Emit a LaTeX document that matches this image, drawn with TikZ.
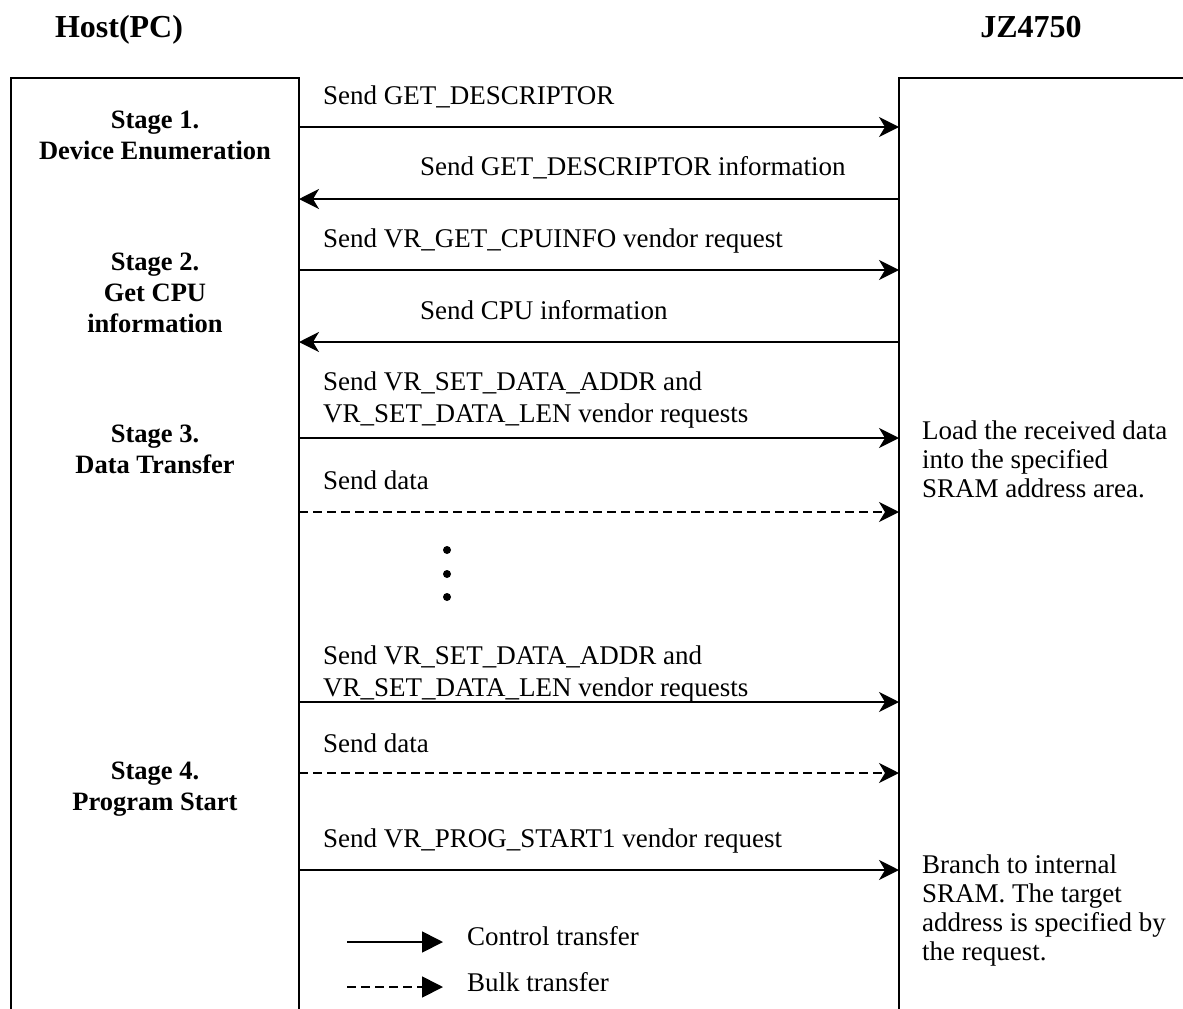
\documentclass[tikz,border=0pt]{standalone}
\usepackage{fontspec}
\setmainfont{Liberation Serif}
\usetikzlibrary{arrows.meta}
\tikzset{
  msg/.style={line width=1.8pt,-{Stealth[length=20pt,width=20pt,inset=6pt]}},
  bulk/.style={msg,dash pattern=on 9pt off 5pt},
  key/.style={line width=1.8pt,-{Triangle[length=21pt,width=21pt]}},
  lbl/.style={anchor=base west,inner sep=0pt,font=\fontsize{27}{32}\selectfont,align=left},
  note/.style={lbl,font=\fontsize{27}{29}\selectfont},
  stage/.style={anchor=base,inner sep=0pt,font=\fontsize{26.5}{31}\selectfont\bfseries,align=center},
  head/.style={anchor=base,inner sep=0pt,font=\fontsize{32}{38}\selectfont\bfseries},
}

\begin{document}
\begin{tikzpicture}[x=1pt,y=-1pt,line cap=butt,line join=miter]
	\useasboundingbox (0,0) rectangle (1183,1009);
	% lifelines
	\draw [line width=1.8pt] (11,1009) -- (11,78) -- (299,78) -- (299,1009);
	\draw [line width=1.8pt] (899,1009) -- (899,78) -- (1183,78);
	\node[head] (host) at (119,37) {Host(PC)};
	\node[head] (dev) at (1031,37) {JZ4750};
	% arrow ends
	\foreach \n/\y in {1/127,2/199,3/270,4/342,5/438,6/512,7/702,8/773,9/870}
	{
		\coordinate (h\n) at (299,\y);
		\coordinate (d\n) at (899,\y);
	}
	\draw[msg] (h1) -- (d1);
	\draw[msg] (d2) -- (h2);
	\draw[msg] (h3) -- (d3);
	\draw[msg] (d4) -- (h4);
	\draw[msg] (h5) -- (d5);
	\draw[bulk] (h6) -- (d6);
	\draw[msg] (h7) -- (d7);
	\draw[bulk] (h8) -- (d8);
	\draw[msg] (h9) -- (d9);
	\node[lbl] (m1) at (323,104) {Send GET\_DESCRIPTOR};
	\node[lbl] (m2) at (420,175) {Send GET\_DESCRIPTOR information};
	\node[lbl] (m3) at (323,247) {Send VR\_GET\_CPUINFO vendor request};
	\node[lbl] (m4) at (420,319) {Send CPU information};
	\node[lbl] (m5) at (323,422) {Send VR\_SET\_DATA\_ADDR and\\VR\_SET\_DATA\_LEN vendor requests};
	\node[lbl] (m6) at (323,489) {Send data};
	\node[lbl] (m7) at (323,696) {Send VR\_SET\_DATA\_ADDR and\\VR\_SET\_DATA\_LEN vendor requests};
	\node[lbl] (m8) at (323,752) {Send data};
	\node[lbl] (m9) at (323,847) {Send VR\_PROG\_START1 vendor request};
	\foreach \y in {550,574,597}
		\fill (447,\y) circle (4pt);
	% stages
	\node[stage] (s1) at (155,159) {Stage 1.\\Device Enumeration};
	\node[stage] (s2) at (155,332) {Stage 2.\\Get CPU\\information};
	\node[stage] (s3) at (155,473) {Stage 3.\\Data Transfer};
	\node[stage] (s4) at (155,810) {Stage 4.\\Program Start};
	% device side
	\node[note] (r1) at (922,497) {Load the received data\\into the specified\\SRAM address area.};
	\node[note] (r2) at (922,960) {Branch to internal\\SRAM. The target\\address is specified by\\the request.};
	% legend
	\coordinate (k1) at (347,942);
	\coordinate (k2) at (443,942);
	\coordinate (k3) at (347,987);
	\coordinate (k4) at (443,987);
	\draw[key] (k1) -- (k2);
	\draw[key,dash pattern=on 9pt off 5pt] (k3) -- (k4);
	\node[lbl] (c1) at (467,945) {Control transfer};
	\node[lbl] (c2) at (467,991) {Bulk transfer};
\end{tikzpicture}
\end{document}
